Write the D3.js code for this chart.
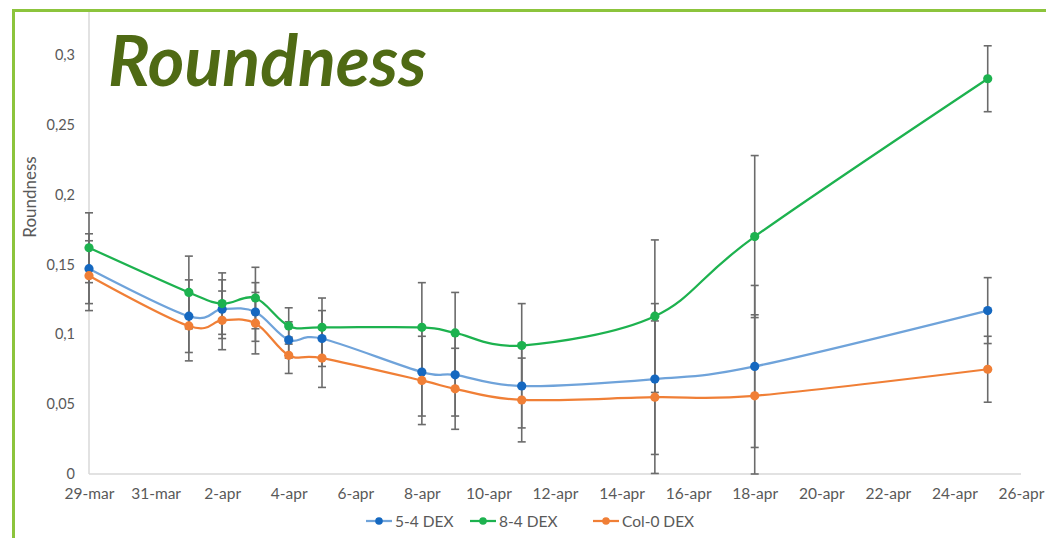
<!DOCTYPE html>
<html>
<head>
<meta charset="utf-8">
<script src="https://cdn.jsdelivr.net/npm/d3@7"></script>
<style>
  html, body { margin: 0; padding: 0; background: #ffffff; }
  svg { display: block; }
</style>
</head>
<body>
<svg id="chart" width="1046" height="538"></svg>
<script>
// Measurement dates
const dates = ["2021-03-29", "2021-04-01", "2021-04-02", "2021-04-03", "2021-04-04", "2021-04-05",
               "2021-04-08", "2021-04-09", "2021-04-11", "2021-04-15", "2021-04-18", "2021-04-25"];

// Mean roundness per line
const s54Values  = [0.147, 0.113, 0.118, 0.116, 0.096, 0.097, 0.073, 0.071, 0.063, 0.068, 0.077, 0.117];
const s84Values  = [0.162, 0.130, 0.122, 0.126, 0.106, 0.105, 0.105, 0.101, 0.092, 0.113, 0.170, 0.283];
const col0Values = [0.142, 0.106, 0.110, 0.108, 0.085, 0.083, 0.067, 0.061, 0.053, 0.055, 0.056, 0.075];

// Error (± deviation) per line
const s54Errors  = [0.025, 0.026, 0.021, 0.021, 0.013, 0.020, 0.0315, 0.0295, 0.030, 0.054, 0.058, 0.0236];
const s84Errors  = [0.025, 0.026, 0.022, 0.022, 0.013, 0.021, 0.032, 0.029, 0.030, 0.0546, 0.058, 0.0236];
const col0Errors = [0.025, 0.025, 0.021, 0.022, 0.013, 0.021, 0.0316, 0.029, 0.030, 0.0546, 0.058, 0.0236];

const seriesNames = ["5-4 DEX", "8-4 DEX", "Col-0 DEX"];

// Axis ticks
const xTickDates  = ["2021-03-29", "2021-03-31", "2021-04-02", "2021-04-04", "2021-04-06", "2021-04-08",
                     "2021-04-10", "2021-04-12", "2021-04-14", "2021-04-16", "2021-04-18", "2021-04-20",
                     "2021-04-22", "2021-04-24", "2021-04-26"];
const xTickLabels = ["29-mar", "31-mar", "2-apr", "4-apr", "6-apr", "8-apr", "10-apr", "12-apr",
                     "14-apr", "16-apr", "18-apr", "20-apr", "22-apr", "24-apr", "26-apr"];
const yTicks      = [0, 0.05, 0.1, 0.15, 0.2, 0.25, 0.3];
const yTickLabels = ["0", "0,05", "0,1", "0,15", "0,2", "0,25", "0,3"];

const parse = d3.utcParse("%Y-%m-%d");
const W = 1046, H = 538;
const svg = d3.select("#chart");

const x = d3.scaleUtc()
  .domain([parse("2021-03-29"), parse("2021-04-26")])
  .range([89, 1021]);
const y = d3.scaleLinear().domain([0, 0.3]).range([474, 55]);

const series = [
  { name: seriesNames[0], values: s54Values,  errors: s54Errors,  line: "#6fa3da", dot: "#1568c0" },
  { name: seriesNames[1], values: s84Values,  errors: s84Errors,  line: "#1db24f", dot: "#1db24f" },
  { name: seriesNames[2], values: col0Values, errors: col0Errors, line: "#f07f36", dot: "#f07f36" }
].map(s => ({ ...s, points: dates.map((d, i) => ({ date: parse(d), v: s.values[i], e: s.errors[i] })) }));

// Frame
svg.append("path")
  .attr("d", `M13.5,${H} L13.5,10.5 L${W + 5},10.5`)
  .attr("fill", "none").attr("stroke", "#8cc43c").attr("stroke-width", 3);

const font = "Lato, 'Open Sans', sans-serif";
const textColor = "#595959";

// Y axis
const yAxis = d3.axisLeft(y).tickValues(yTicks)
  .tickFormat((d, i) => yTickLabels[i]).tickSize(0).tickPadding(14);
const gy = svg.append("g").attr("transform", "translate(89,0)").call(yAxis);
gy.select(".domain").remove();
gy.selectAll("text").attr("fill", textColor).style("font-family", font).style("font-size", "14.5px");
svg.append("line").attr("x1", 89).attr("x2", 89).attr("y1", 12).attr("y2", 474)
  .attr("stroke", "#d9d9d9").attr("stroke-width", 1.5);

// X axis
const xAxis = d3.axisBottom(x).tickValues(xTickDates.map(parse))
  .tickFormat((d, i) => xTickLabels[i]).tickSize(0).tickPadding(14);
const gx = svg.append("g").attr("transform", "translate(0,474)").call(xAxis);
gx.select(".domain").remove();
gx.selectAll("text").attr("fill", textColor).style("font-family", font).style("font-size", "15.5px");
svg.append("line").attr("x1", 89).attr("x2", 1021).attr("y1", 474).attr("y2", 474)
  .attr("stroke", "#d9d9d9").attr("stroke-width", 1.5);

// Axis title
svg.append("text")
  .attr("transform", "translate(36,197) rotate(-90)")
  .attr("text-anchor", "middle")
  .attr("fill", textColor).style("font-family", font).style("font-size", "17px")
  .text("Roundness");

// Chart title
svg.append("text")
  .attr("x", 108).attr("y", 86)
  .attr("fill", "#4f6a14")
  .style("font-family", font).style("font-size", "70px")
  .style("font-weight", "bold").style("font-style", "italic")
  .text("Roundness");

// Error bars
const errG = svg.append("g").attr("stroke", "#6b6b6b").attr("stroke-width", 1.6);
series.forEach(s => {
  s.points.forEach(p => {
    const hi = y(p.v + p.e), lo = y(Math.max(0, p.v - p.e));
    const cx = x(p.date);
    errG.append("line").attr("x1", cx).attr("x2", cx).attr("y1", hi).attr("y2", lo);
    errG.append("line").attr("x1", cx - 4).attr("x2", cx + 4).attr("y1", hi).attr("y2", hi);
    errG.append("line").attr("x1", cx - 4).attr("x2", cx + 4).attr("y1", lo).attr("y2", lo);
  });
});

// Smoothed lines
const line = d3.line().x(p => x(p.date)).y(p => y(p.v)).curve(d3.curveCardinal.tension(0));
series.forEach(s => {
  svg.append("path").datum(s.points)
    .attr("d", line).attr("fill", "none")
    .attr("stroke", s.line).attr("stroke-width", 2.25);
});

// Markers
series.forEach(s => {
  svg.append("g").selectAll("circle").data(s.points).join("circle")
    .attr("cx", p => x(p.date)).attr("cy", p => y(p.v)).attr("r", 4.6)
    .attr("fill", s.dot);
});

// Legend
const legendX = [366, 470, 593];
series.forEach((s, i) => {
  const g = svg.append("g").attr("transform", `translate(${legendX[i]},521)`);
  g.append("line").attr("x1", 0).attr("x2", 26).attr("y1", 0).attr("y2", 0)
    .attr("stroke", s.line).attr("stroke-width", 2.25);
  g.append("circle").attr("cx", 13).attr("cy", 0).attr("r", 3.8).attr("fill", s.dot);
  g.append("text").attr("x", 29).attr("y", 5.5)
    .attr("fill", textColor).style("font-family", font).style("font-size", "15.5px")
    .text(s.name);
});
</script>
</body>
</html>
